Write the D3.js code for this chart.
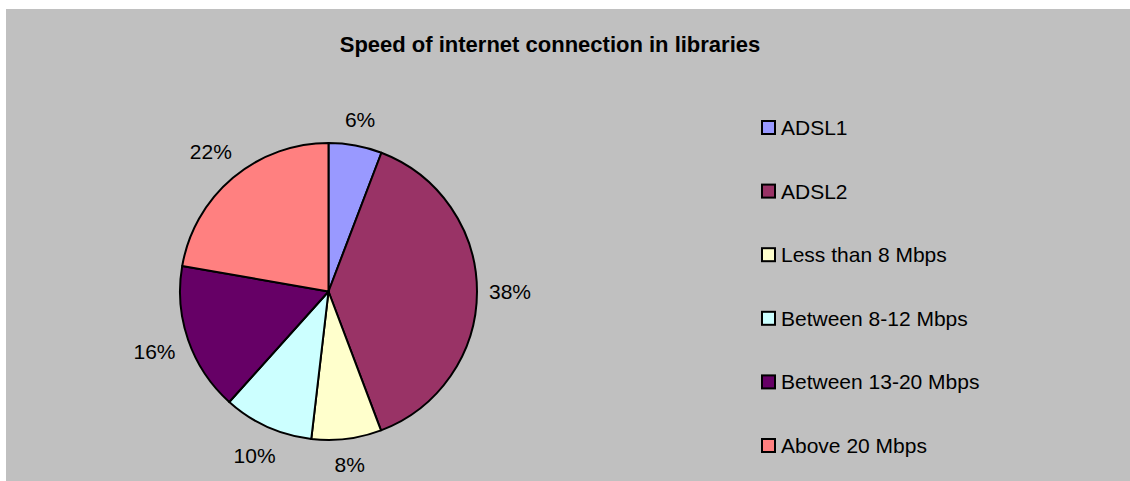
<!DOCTYPE html>
<html>
<head>
<meta charset="utf-8">
<script src="https://cdn.jsdelivr.net/npm/d3@7"></script>
<style>
  html, body { margin: 0; padding: 0; background: #fff; }
  svg { display: block; }
  text { font-family: "Liberation Sans", Arial, sans-serif; }
</style>
</head>
<body>
<svg id="chart" width="1130" height="481"></svg>
<script>
const title = "Speed of internet connection in libraries";
const categories = ["ADSL1", "ADSL2", "Less than 8 Mbps", "Between 8-12 Mbps", "Between 13-20 Mbps", "Above 20 Mbps"];
const values = [5.8, 38.45, 7.6, 9.8, 16.1, 22.25];
const colors = ["#9999FF", "#993366", "#FFFFCC", "#CCFFFF", "#660066", "#FF8080"];

const svg = d3.select("#chart");
const W = 1130, H = 481;

svg.append("rect").attr("x", 6).attr("y", 9).attr("width", W - 6).attr("height", H - 9)
  .attr("fill", "#C0C0C0");

svg.append("text").attr("x", 550).attr("y", 52).attr("text-anchor", "middle")
  .attr("font-size", 22).attr("font-weight", "bold").attr("fill", "#000").text(title);

const cx = 328.5, cy = 291.5, r = 148.5;
const data = categories.map((c, i) => ({ name: c, value: values[i], color: colors[i] }));
const pie = d3.pie().value(d => d.value).sort(null);
const arcs = pie(data);
const arc = d3.arc().innerRadius(0).outerRadius(r);

const g = svg.append("g").attr("transform", `translate(${cx},${cy})`);
g.selectAll("path").data(arcs).join("path")
  .attr("d", arc).attr("fill", d => d.data.color)
  .attr("stroke", "#000").attr("stroke-width", 2).attr("stroke-linejoin", "round");

const total = d3.sum(values);
const fs = 21, gap = 12;
g.selectAll("text.lbl").data(arcs).join("text").attr("class", "lbl")
  .attr("font-size", fs).attr("fill", "#000")
  .text(d => Math.round(d.data.value / total * 100) + "%")
  .each(function(d) {
    const a = (d.startAngle + d.endAngle) / 2;
    const s = Math.sin(a), c = -Math.cos(a);
    const w = this.getComputedTextLength();
    const h = 23;
    const dist = r + gap + (w / 2) * Math.abs(s) + (h / 2) * Math.abs(c);
    const ccx = dist * s, ccy = dist * c;
    d3.select(this).attr("x", ccx).attr("y", ccy + fs * 0.36).attr("text-anchor", "middle");
  });

const leg = svg.append("g");
const step = 63.6, y0 = 135;
data.forEach((d, i) => {
  const y = y0 + i * step;
  leg.append("rect").attr("x", 762).attr("y", y - 14).attr("width", 13).attr("height", 13)
    .attr("fill", d.color).attr("stroke", "#000").attr("stroke-width", 2);
  leg.append("text").attr("x", 781).attr("y", y).attr("font-size", fs).attr("fill", "#000").text(d.name);
});
</script>
</body>
</html>
